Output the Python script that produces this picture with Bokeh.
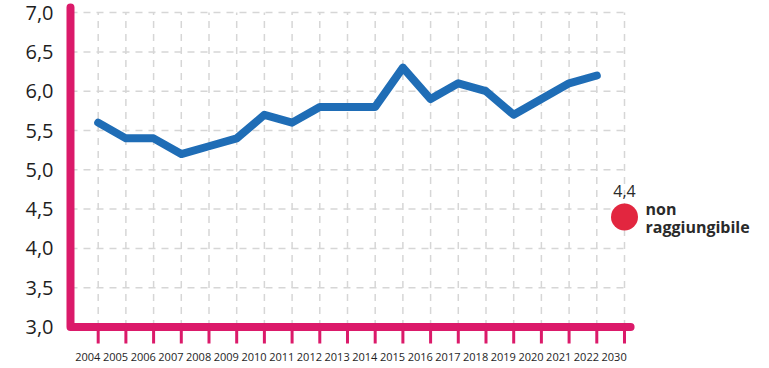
from bokeh.plotting import figure
from bokeh.models import FixedTicker
from bokeh.core.properties import value
from bokeh.embed import file_html
from bokeh.resources import INLINE

# Data
years = ["2004", "2005", "2006", "2007", "2008", "2009", "2010", "2011", "2012",
         "2013", "2014", "2015", "2016", "2017", "2018", "2019", "2020", "2021",
         "2022", "2030"]
values = [5.6, 5.4, 5.4, 5.2, 5.3, 5.4, 5.7, 5.6, 5.8, 5.8, 5.8, 6.3, 5.9,
          6.1, 6.0, 5.7, 5.9, 6.1, 6.2]
target_year = "2030"
target_value = 4.4
target_label = "4,4"
target_note = ["non", "raggiungibile"]
y_ticks = [3.0, 3.5, 4.0, 4.5, 5.0, 5.5, 6.0, 6.5, 7.0]
y_tick_labels = ["3,0", "3,5", "4,0", "4,5", "5,0", "5,5", "6,0", "6,5", "7,0"]

PINK = "#db1a6a"
BLUE = "#1f6db6"
RED = "#e2263f"
GRID = "#d6d6d6"
FONT = "Open Sans"

idx = list(range(len(years)))
line_x = idx[:len(values)]
target_x = years.index(target_year)

p = figure(width=769, height=368, output_backend="svg", toolbar_location=None,
           x_range=(-1.433, 24.235), y_range=(2.7265, 7.154),
           min_border_left=58, min_border_right=0, min_border_top=0,
           min_border_bottom=20)
p.outline_line_color = None
p.background_fill_color = "white"
p.border_fill_color = "white"
p.xgrid.visible = False
p.ygrid.visible = False

# Dashed grid
y_lo, y_hi = y_ticks[0], y_ticks[-1]
p.segment(x0=idx, y0=[y_lo] * len(idx), x1=idx, y1=[y_hi] * len(idx),
          line_color=GRID, line_width=1.5, line_dash="7 6")
p.segment(x0=[-1] * (len(y_ticks) - 1), y0=y_ticks[1:],
          x1=[idx[-1]] * (len(y_ticks) - 1), y1=y_ticks[1:],
          line_color=GRID, line_width=1.5, line_dash="7 6")

# Axis lines and tick marks in magenta
p.line(x=[-1, -1, 19.22], y=[7.065, y_lo, y_lo], line_color=PINK, line_width=8,
       line_cap="round", line_join="round")
p.segment(x0=idx, y0=[y_lo] * len(idx), x1=idx, y1=[2.79] * len(idx),
          line_color=PINK, line_width=3)

# Series
p.line(x=line_x, y=values, line_color=BLUE, line_width=8,
       line_cap="round", line_join="round")

# Target point and note
p.scatter(x=[target_x], y=[target_value], size=27, color=RED, line_color=None)
p.text(x=[target_x], y=[target_value], text=[target_label], y_offset=-26,
       text_align="center", text_baseline="middle", text_font=value(FONT),
       text_font_size="16px", text_color="#2a2a2a")
p.text(x=[target_x, target_x], y=[target_value, target_value], text=target_note,
       x_offset=21, y_offset=[-8, 10], text_align="left", text_baseline="middle",
       text_font=value(FONT), text_font_size="16px", text_font_style="bold",
       text_color="#2a2a2a")

# Y axis: labels only
p.yaxis.ticker = FixedTicker(ticks=y_ticks)
p.yaxis.major_label_overrides = {t: s for t, s in zip(y_ticks, y_tick_labels)}
p.yaxis.axis_line_color = None
p.yaxis.major_tick_line_color = None
p.yaxis.minor_tick_line_color = None
p.yaxis.major_tick_out = 0
p.yaxis.major_tick_in = 0
p.yaxis.major_label_standoff = 5
p.yaxis.major_label_text_font = FONT
p.yaxis.major_label_text_font_size = "20px"
p.yaxis.major_label_text_color = "#1e1e1e"

# X axis: year labels sit just left of each tick mark
label_shift = 0.375
x_label_pos = [i - label_shift for i in idx]
p.xaxis.ticker = FixedTicker(ticks=x_label_pos)
p.xaxis.major_label_overrides = {t: s for t, s in zip(x_label_pos, years)}
p.xaxis.axis_line_color = None
p.xaxis.major_tick_line_color = None
p.xaxis.minor_tick_line_color = None
p.xaxis.major_tick_out = 0
p.xaxis.major_tick_in = 0
p.xaxis.major_label_standoff = 4
p.xaxis.major_label_text_font = FONT
p.xaxis.major_label_text_font_size = "11px"
p.xaxis.major_label_text_color = "#1e1e1e"

open("out.html", "w").write(file_html(p, INLINE))
